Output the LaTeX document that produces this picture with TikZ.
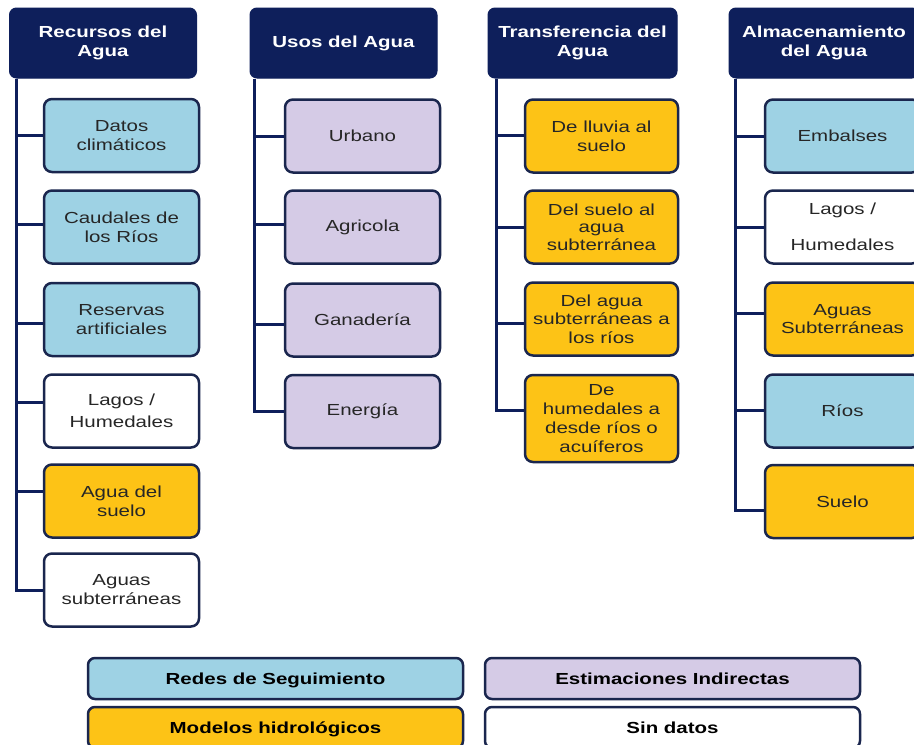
\documentclass[tikz,border=0pt]{standalone}
\usepackage{fontspec}
\setmainfont{Liberation Sans}[FakeStretch=1.28]
\definecolor{cnavy}{RGB}{14,31,91}
\definecolor{cbord}{RGB}{26,38,78}
\definecolor{cblue}{RGB}{158,210,228}
\definecolor{clav}{RGB}{213,203,230}
\definecolor{cgold}{RGB}{253,195,22}
\definecolor{ctxt}{RGB}{38,38,38}
\begin{document}
\begin{tikzpicture}[x=1pt,y=-1pt,
  hdr/.style={draw=cnavy, fill=cnavy, line width=1pt, rounded corners=7pt,
    minimum width=187pt, minimum height=70pt, align=center, inner sep=0pt,
    text=white, font=\fontsize{16}{18.3}\selectfont\bfseries},
  box/.style={draw=cbord, line width=2.5pt, rounded corners=8pt,
    minimum width=155pt, minimum height=73pt, align=center, inner sep=0pt,
    text=ctxt, font=\fontsize{16}{19}\selectfont},
  leg/.style={draw=cbord, line width=2.5pt, rounded corners=7pt,
    minimum width=375pt, minimum height=41pt, align=center, inner sep=0pt,
    text height=14pt, text depth=2.5pt,
    text=black, font=\fontsize{16}{19}\selectfont\bfseries},
  conn/.style={draw=cnavy, line width=3pt}
]
\fill[white] (0,0) rectangle (914,745);
\clip (0,0) rectangle (914,745);

% headers
\node[hdr] (ha) at (103,43) {Recursos del\\Agua};
\node[hdr] (hb) at (343.5,43) {Usos del Agua};
\node[hdr, minimum width=189pt] (hc) at (582.5,43) {Transferencia del\\Agua};
\node[hdr, minimum width=190pt] (hd) at (824,43) {Almacenamiento\\del Agua};

% column 1
\node[box, fill=cblue] (a1) at (121.5,135.5) {Datos\\climáticos};
\node[box, fill=cblue] (a2) at (121.5,227) {Caudales de\\los Ríos};
\node[box, fill=cblue] (a3) at (121.5,319.5) {Reservas\\artificiales};
\node[box, fill=white] (a4) at (121.5,411) {Lagos /\\[3pt]Humedales};
\node[box, fill=cgold] (a5) at (121.5,501) {Agua del\\suelo};
\node[box, fill=white] (a6) at (121.5,590) {Aguas\\subterráneas};

% column 2
\node[box, fill=clav] (b1) at (362.5,136) {Urbano};
\node[box, fill=clav] (b2) at (362.5,227) {Agricola};
\node[box, fill=clav] (b3) at (362.5,320) {Ganadería};
\node[box, fill=clav] (b4) at (362.5,411.5) {Energía};

% column 3
\node[box, fill=cgold, minimum width=153pt] (c1) at (601.5,136) {De lluvia al\\suelo};
\node[box, fill=cgold, minimum width=153pt, font=\fontsize{16}{17.5}\selectfont] (c2) at (601.5,227) {Del suelo al\\agua\\subterránea};
\node[box, fill=cgold, minimum width=153pt, font=\fontsize{16}{18.3}\selectfont] (c3) at (601.5,319) {Del agua\\subterráneas a\\los ríos};
\node[box, fill=cgold, minimum width=153pt, minimum height=87pt] (c4) at (601.5,418.5) {De\\humedales a\\desde ríos o\\acuíferos};

% column 4
\node[box, fill=cblue] (d1) at (842.5,136) {Embalses};
\node[box, fill=white] (d2) at (842.5,227) {Lagos /\\[17pt]Humedales};
\node[box, fill=cgold, font=\fontsize{16}{18}\selectfont] (d3) at (842.5,319) {Aguas\\Subterráneas};
\node[box, fill=cblue] (d4) at (842.5,411) {Ríos};
\node[box, fill=cgold] (d5) at (842.5,501.5) {Suelo};

% trunks
\coordinate (ta) at ([xshift=7pt]ha.south west);
\coordinate (tb) at ([xshift=5pt]hb.south west);
\coordinate (tc) at ([xshift=9pt]hc.south west);
\coordinate (td) at ([xshift=7pt]hd.south west);

\draw[conn] (ta) |- (a6.west);
\foreach \n/\s in {a1/0,a2/3,a3/-4,a4/9,a5/10}{
  \path ([yshift=\s pt]\n.west) coordinate (tmp);
  \draw[conn] (ta |- tmp) -- (tmp);
}
\draw[conn] (tb) |- (b4.west);
\foreach \n/\s in {b1/0,b2/3,b3/-4}{
  \path ([yshift=\s pt]\n.west) coordinate (tmp);
  \draw[conn] (tb |- tmp) -- (tmp);
}
\draw[conn] (tc) |- ([yshift=8.5pt]c4.west);
\foreach \n/\s in {c1/1,c2/0,c3/-4}{
  \path ([yshift=\s pt]\n.west) coordinate (tmp);
  \draw[conn] (tc |- tmp) -- (tmp);
}
\draw[conn] (td) |- ([yshift=-8.5pt]d5.west);
\foreach \n/\s in {d1/0,d2/0,d3/6,d4/1}{
  \path ([yshift=\s pt]\n.west) coordinate (tmp);
  \draw[conn] (td |- tmp) -- (tmp);
}

% legend
\node[leg, fill=cblue] (l1) at (275.5,678.5) {Redes de Seguimiento};
\node[leg, fill=clav] (l2) at (672.5,678.5) {Estimaciones Indirectas};
\node[leg, fill=cgold] (l3) at (275.5,727.5) {Modelos hidrológicos};
\node[leg, fill=white] (l4) at (672.5,727.5) {Sin datos};
\end{tikzpicture}
\end{document}
